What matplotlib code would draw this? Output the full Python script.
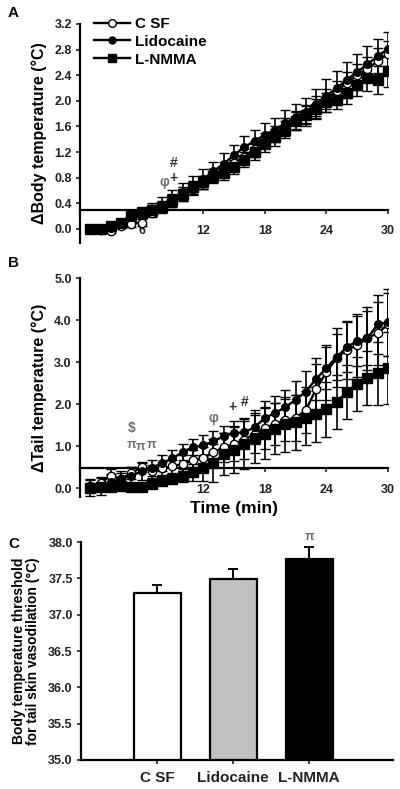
import matplotlib
matplotlib.use('Agg')
from matplotlib import pyplot as plt
from matplotlib.lines import Line2D

plt.rcParams['font.family'] = ['Liberation Sans', 'DejaVu Sans']
plt.rcParams['font.weight'] = 'bold'

# time points (min)
t = list(range(1, 31))

# panel A: change in body temperature
a_csf = [0.0, -0.02, -0.03, 0.05, 0.08, 0.1, 0.25, 0.33, 0.42, 0.52, 0.62, 0.72, 0.83, 0.93, 1.03,
         1.13, 1.25, 1.38, 1.48, 1.6, 1.7, 1.8, 1.92, 2.03, 2.15, 2.28, 2.4, 2.5, 2.62, 2.73]
a_lido = [0.0, 0.0, 0.02, 0.08, 0.18, 0.25, 0.3, 0.38, 0.48, 0.57, 0.68, 0.78, 0.9, 1.02, 1.15,
          1.28, 1.37, 1.47, 1.55, 1.65, 1.75, 1.83, 1.95, 2.08, 2.2, 2.33, 2.45, 2.57, 2.7, 2.81]
a_lnmma = [0.0, 0.0, 0.05, 0.1, 0.22, 0.27, 0.3, 0.35, 0.45, 0.55, 0.65, 0.73, 0.82, 0.88, 0.97,
           1.08, 1.2, 1.32, 1.43, 1.55, 1.68, 1.78, 1.88, 1.98, 2.02, 2.12, 2.25, 2.35, 2.33, 2.46]
a_csf_err = [0.03, 0.03, 0.03, 0.04, 0.05, 0.06, 0.07, 0.08, 0.08, 0.09, 0.09, 0.1, 0.1, 0.11, 0.11,
             0.12, 0.12, 0.12, 0.13, 0.13, 0.14, 0.14, 0.15, 0.15, 0.16, 0.17, 0.18, 0.19, 0.2, 0.2]
a_lido_err = [0.03, 0.03, 0.04, 0.05, 0.06, 0.08, 0.1, 0.12, 0.13, 0.14, 0.14, 0.15, 0.15, 0.16, 0.16,
              0.17, 0.17, 0.18, 0.18, 0.2, 0.2, 0.22, 0.24, 0.26, 0.27, 0.28, 0.28, 0.28, 0.27, 0.26]
a_lnmma_err = [0.03, 0.03, 0.04, 0.05, 0.06, 0.06, 0.07, 0.08, 0.09, 0.1, 0.1, 0.1, 0.11, 0.11, 0.11,
               0.12, 0.12, 0.12, 0.13, 0.13, 0.14, 0.14, 0.15, 0.15, 0.15, 0.17, 0.18, 0.2, 0.22, 0.25]
a_threshold = 0.3

# panel B: change in tail temperature
b_csf = [0.05, 0.12, 0.3, 0.22, 0.36, 0.5, 0.4, 0.47, 0.52, 0.58, 0.66, 0.72, 0.86, 0.97, 1.05,
         1.15, 1.3, 1.43, 1.52, 1.62, 1.67, 1.86, 2.36, 2.76, 3.1, 3.29, 3.4, 3.57, 3.69, 3.9]
b_lido = [0.02, 0.05, 0.15, 0.22, 0.3, 0.4, 0.48, 0.6, 0.71, 0.86, 0.98, 1.02, 1.12, 1.24, 1.31,
          1.33, 1.45, 1.67, 1.79, 1.93, 2.1, 2.3, 2.6, 2.86, 3.12, 3.36, 3.5, 3.57, 3.9, 3.95]
b_lnmma = [0.0, 0.02, 0.04, 0.05, 0.02, 0.03, 0.1, 0.18, 0.22, 0.3, 0.38, 0.48, 0.6, 0.82, 0.92,
           1.05, 1.2, 1.3, 1.42, 1.52, 1.57, 1.67, 1.76, 1.88, 2.05, 2.29, 2.48, 2.62, 2.74, 2.86]
b_csf_err = [0.15, 0.15, 0.15, 0.15, 0.15, 0.12, 0.15, 0.15, 0.15, 0.2, 0.25, 0.25, 0.3, 0.35, 0.4,
             0.45, 0.45, 0.5, 0.5, 0.5, 0.55, 0.55, 0.6, 0.65, 0.7, 0.7, 0.75, 0.75, 0.75, 0.75]
b_lido_err = [0.2, 0.2, 0.2, 0.2, 0.2, 0.2, 0.2, 0.2, 0.2, 0.2, 0.2, 0.25, 0.25, 0.25, 0.3,
              0.35, 0.4, 0.4, 0.4, 0.4, 0.45, 0.5, 0.5, 0.5, 0.55, 0.6, 0.6, 0.65, 0.7, 0.8]
b_lnmma_err = [0.05, 0.05, 0.05, 0.05, 0.05, 0.1, 0.1, 0.1, 0.1, 0.15, 0.2, 0.3, 0.45, 0.5, 0.55,
               0.6, 0.6, 0.6, 0.6, 0.65, 0.65, 0.65, 0.65, 0.65, 0.65, 0.65, 0.65, 0.65, 0.75, 0.85]
b_threshold = 0.47

# panel C: threshold body temperature
groups = ['C SF', 'Lidocaine', 'L-NMMA']
thresh = [37.3, 37.49, 37.77]
thresh_err = [0.11, 0.14, 0.16]
bar_colors = ['white', '#c0c0c0', 'black']

fig = plt.figure(figsize=(4, 7.89), dpi=100)
axA = fig.add_axes([0.2, 0.692, 0.77, 0.2776])
axB = fig.add_axes([0.2, 0.370, 0.77, 0.2776])
axC = fig.add_axes([0.2025, 0.0368, 0.78, 0.276])

series_style = [
    dict(marker='o', markersize=6, markerfacecolor='white', label='C SF'),
    dict(marker='o', markersize=5.5, markerfacecolor='black', label='Lidocaine'),
    dict(marker='s', markersize=6.5, markerfacecolor='black', label='L-NMMA'),
]

tick_color = '#222222'


def line_panel(ax, ys, errs, threshold, ylim, yticks, ylabel):
    for y, e, st in zip(ys, errs, series_style):
        ax.errorbar(t, y, yerr=e, color='black', lw=1.7, elinewidth=1.2, capsize=3.5,
                    capthick=1.2, markeredgecolor='black', markeredgewidth=1.0, zorder=3, **st)
    ax.set_xlim(0, 30)
    ax.set_ylim(*ylim)
    ax.set_yticks(yticks)
    ax.set_yticklabels(['%.1f' % v for v in yticks])
    ax.set_xticks([6, 12, 18, 24, 30])
    ax.spines['top'].set_visible(False)
    ax.spines['right'].set_visible(False)
    ax.spines['bottom'].set_position(('data', threshold))
    ax.spines['left'].set_linewidth(1.6)
    ax.spines['bottom'].set_linewidth(1.6)
    ax.tick_params(axis='y', length=3, width=1.2, labelsize=9, colors=tick_color, pad=3)
    ax.tick_params(axis='x', length=3, width=1.2, labelsize=9, colors=tick_color, pad=8)
    for lab in ax.get_xticklabels() + ax.get_yticklabels():
        lab.set_fontweight('bold')
    ax.set_ylabel(ylabel, fontsize=11.5, fontweight='bold', labelpad=5)


line_panel(axA, [a_csf, a_lido, a_lnmma], [a_csf_err, a_lido_err, a_lnmma_err], a_threshold,
           (-0.22, 3.2), [0.0, 0.4, 0.8, 1.2, 1.6, 2.0, 2.4, 2.8, 3.2],
           '\u0394Body temperature (\u00b0C)')
line_panel(axB, [b_csf, b_lido, b_lnmma], [b_csf_err, b_lido_err, b_lnmma_err], b_threshold,
           (-0.21, 5.0), [0.0, 1.0, 2.0, 3.0, 4.0, 5.0],
           '\u0394Tail temperature (\u00b0C)')
axB.set_xlabel('Time (min)', fontsize=12.5, fontweight='bold', labelpad=4)

# legend handles: line + marker only (no error bars)
handles = [Line2D([], [], color='black', lw=1.7, markeredgecolor='black',
                  marker=st['marker'], markersize=st['markersize'] - 0.5,
                  markerfacecolor=st['markerfacecolor']) for st in series_style]
leg = axA.legend(handles, [st['label'] for st in series_style], loc='upper left',
                 bbox_to_anchor=(0.025, 1.06), frameon=False, fontsize=11,
                 handlelength=2.4, handletextpad=0.3, labelspacing=0.25, borderaxespad=0)
for txt in leg.get_texts():
    txt.set_fontweight('bold')

gray = '#707070'
axA.text(8.2, 0.73, '\u03c6', ha='center', va='center', fontsize=10, color=gray)
axA.text(9.1, 0.8, '+', ha='center', va='center', fontsize=10, color='#333333')
axA.text(9.1, 1.03, '#', ha='center', va='center', fontsize=10, color='#333333')

axB.text(5.0, 1.43, '$', ha='center', va='center', fontsize=10, color=gray)
for px, py in [(5.0, 1.03), (5.9, 0.98), (7.0, 1.03)]:
    axB.text(px, py, '\u03c0', ha='center', va='center', fontsize=9, color=gray)
axB.text(13.0, 1.67, '\u03c6', ha='center', va='center', fontsize=10, color=gray)
axB.text(14.9, 1.93, '+', ha='center', va='center', fontsize=10, color='#333333')
axB.text(16.0, 2.05, '#', ha='center', va='center', fontsize=10, color='#333333')

x_pos = [1, 2, 3]
axC.bar(x_pos, thresh, width=0.62, bottom=0, color=bar_colors, edgecolor='black', linewidth=1.6,
        zorder=2)
axC.errorbar(x_pos, thresh, yerr=[[0, 0, 0], thresh_err], fmt='none', ecolor='black',
             elinewidth=1.4, capsize=3.5, capthick=1.4, zorder=1)
axC.set_xlim(0, 4.1)
axC.set_ylim(35.0, 38.0)
axC.set_xticks(x_pos)
axC.set_xticklabels(groups)
c_ticks = [35.0, 35.5, 36.0, 36.5, 37.0, 37.5, 38.0]
axC.set_yticks(c_ticks)
axC.set_yticklabels(['%.1f' % v for v in c_ticks])
axC.spines['top'].set_visible(False)
axC.spines['right'].set_visible(False)
axC.spines['left'].set_linewidth(1.6)
axC.spines['bottom'].set_linewidth(1.6)
axC.tick_params(axis='y', length=3, width=1.2, labelsize=9, colors=tick_color, pad=3)
axC.tick_params(axis='x', length=3, width=1.2, labelsize=11, colors=tick_color, pad=5)
for lab in axC.get_xticklabels() + axC.get_yticklabels():
    lab.set_fontweight('bold')
axC.set_ylabel('Body temperature threshold\nfor tail skin vasodilation (\u00b0C)', fontsize=10,
               fontweight='bold', labelpad=6, linespacing=1.0)
axC.text(3, 38.07, '\u03c0', ha='center', va='center', fontsize=9, color=gray, clip_on=False)

fig.text(0.02, 0.984, 'A', fontsize=11, fontweight='bold', va='center')
fig.text(0.02, 0.667, 'B', fontsize=11, fontweight='bold', va='center')
fig.text(0.02, 0.31, 'C', fontsize=11, fontweight='bold', va='center')

plt.savefig('out.png', dpi=100)
